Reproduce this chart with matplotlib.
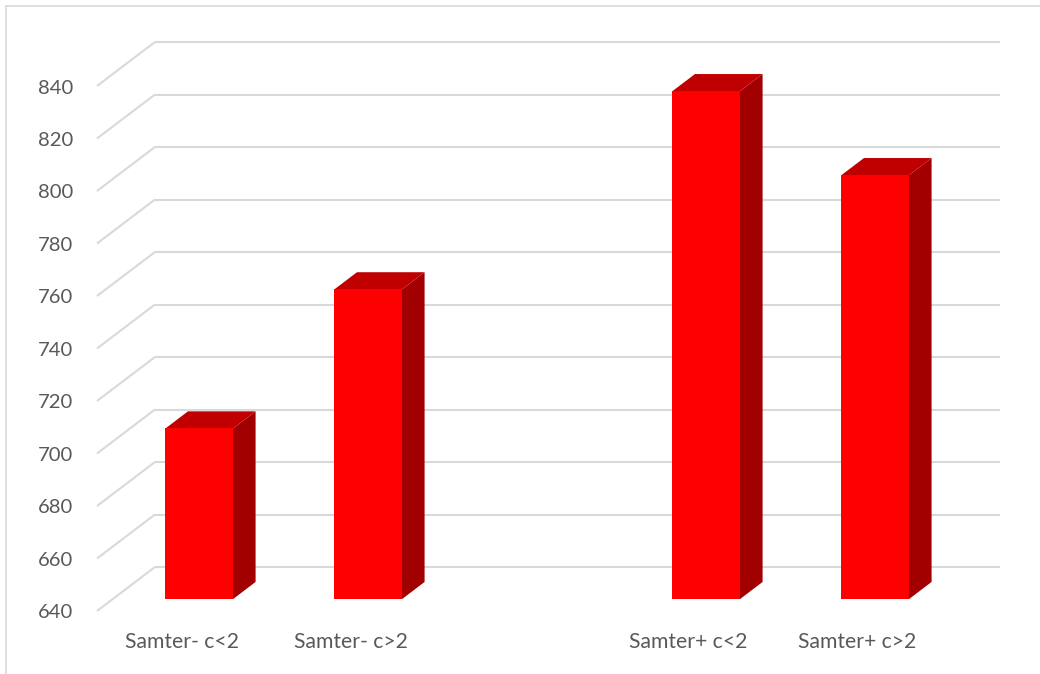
import numpy as np
import matplotlib
matplotlib.use("Agg")
import matplotlib.pyplot as plt
from matplotlib.patches import Polygon
from matplotlib.lines import Line2D

# Data
categories = ["Samter- c<2", "Samter- c>2", "", "Samter+ c<2", "Samter+ c>2"]
values = [705, 758, np.nan, 833.5, 801.5]
y_ticks = [640, 660, 680, 700, 720, 740, 760, 780, 800, 820, 840]

# Oblique 3-D geometry (in data units)
DX = 0.343          # horizontal shift from front to back wall (category units)
DY = 16.76          # vertical shift from front to back wall (value units)
BAR_W = 0.40        # bar width
BAR_FRONT = 0.27    # depth fraction of bar front face
BAR_DEPTH = 0.39    # depth fraction occupied by the bar
BAR_NUDGE = 0.012   # small sideways offset of the bars
BASE = 640

GRID = "#d9d9d9"
TEXT = "#595959"
FRONT = "#ff0000"
TOP = "#c00000"
SIDE = "#a20000"

plt.rcParams["font.family"] = ["Lato", "DejaVu Sans"]

fig = plt.figure(figsize=(10.40, 6.74), dpi=100)
ax = fig.add_axes([0, 0, 1, 1])
ax.set_xlim(-181.5 / 169, (1040 - 181.5) / 169)
ax.set_ylim(BASE - 63 / 2.625, BASE + 611 / 2.625)
ax.axis("off")

n = len(categories)
x_left, x_right = -0.5, n - 0.5

# Back wall and side wall gridlines
for v in y_ticks:
    ax.plot([x_left + DX, x_right + DX], [v + DY, v + DY], color=GRID, lw=1.5,
            solid_capstyle="butt", zorder=1)
    ax.plot([x_left, x_left + DX], [v, v + DY], color=GRID, lw=1.5,
            solid_capstyle="butt", zorder=1)
    ax.annotate(f"{v}", xy=(x_left, v), xytext=(-24, -2), textcoords="offset pixels",
                ha="right", va="center", fontsize=14.6, color=TEXT)

# Bars drawn as front face, top and right side
for i, (cat, v) in enumerate(zip(categories, values)):
    if not np.isnan(v):
        fx0 = i - BAR_W / 2 + BAR_FRONT * DX + BAR_NUDGE
        fx1 = i + BAR_W / 2 + BAR_FRONT * DX + BAR_NUDGE
        fy0 = BASE + BAR_FRONT * DY
        fy1 = v + BAR_FRONT * DY
        ddx, ddy = BAR_DEPTH * DX, BAR_DEPTH * DY
        front = Polygon([(fx0, fy0), (fx1, fy0), (fx1, fy1), (fx0, fy1)],
                        closed=True, facecolor=FRONT, edgecolor="none", zorder=3)
        top = Polygon([(fx0, fy1), (fx1, fy1), (fx1 + ddx, fy1 + ddy), (fx0 + ddx, fy1 + ddy)],
                      closed=True, facecolor=TOP, edgecolor="none", zorder=3)
        side = Polygon([(fx1, fy0), (fx1 + ddx, fy0 + ddy), (fx1 + ddx, fy1 + ddy), (fx1, fy1)],
                       closed=True, facecolor=SIDE, edgecolor="none", zorder=3)
        for p in (side, top, front):
            ax.add_patch(p)
    if cat:
        ax.annotate(cat, xy=(i, BASE), xytext=(0, -31), textcoords="offset pixels",
                    ha="center", va="center", fontsize=15.2, color=TEXT)

# Chart area border
fig.add_artist(Line2D([6 / 1040, 6 / 1040], [0, 1 - 6 / 674], color=GRID, lw=1.2,
                      transform=fig.transFigure))
fig.add_artist(Line2D([6 / 1040, 1], [1 - 6 / 674, 1 - 6 / 674], color=GRID, lw=1.2,
                      transform=fig.transFigure))

fig.savefig("out.png", dpi=100, facecolor="white")
